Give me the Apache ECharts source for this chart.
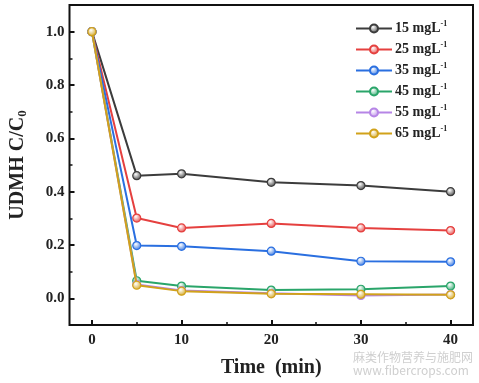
<!DOCTYPE html>
<html><head><meta charset="utf-8">
<script src="https://cdn.jsdelivr.net/npm/echarts@6/dist/echarts.min.js"></script>
<style>html,body{margin:0;padding:0;background:#fff}#c{width:479px;height:383px}</style>
</head><body><div id="c"></div>
<script>
const times = [0, 5, 10, 20, 30, 40];
const seriesNames = ['15', '25', '35', '45', '55', '65'];
const s15 = [1.0, 0.46, 0.467, 0.435, 0.423, 0.40];
const s25 = [1.0, 0.301, 0.264, 0.281, 0.264, 0.254];
const s35 = [1.0, 0.198, 0.195, 0.177, 0.139, 0.137];
const s45 = [1.0, 0.066, 0.046, 0.031, 0.034, 0.046];
const s55 = [1.0, 0.052, 0.029, 0.019, 0.011, 0.014];
const s65 = [1.0, 0.049, 0.027, 0.017, 0.015, 0.013];
const xTicks = [0, 10, 20, 30, 40];
const xMinor = [5, 15, 25, 35];
const yTicks = [0, 0.2, 0.4, 0.6, 0.8, 1.0];
const yMinor = [0.1, 0.3, 0.5, 0.7, 0.9];
const values = [s15, s25, s35, s45, s55, s65];
const colors = ['#3c3c3c', '#e5403f', '#2a6fe0', '#2aa56a', '#b685e6', '#d1a21a'];

const font = '"Liberation Serif", "Times New Roman", serif';
const chart = echarts.init(document.getElementById('c'));

const series = values.map((v, i) => ({
  name: seriesNames[i],
  type: 'line',
  xAxisIndex: 0, yAxisIndex: 0,
  data: times.map((t, k) => [t, v[k]]),
  symbol: 'circle',
  symbolSize: 8,
  z: 2 + i,
  lineStyle: { color: colors[i], width: 2 },
  itemStyle: {
    color: {
      type: 'radial', x: 0.4, y: 0.35, r: 0.7,
      colorStops: [{ offset: 0, color: '#ffffff' }, { offset: 1, color: colors[i] }]
    },
    borderColor: colors[i], borderWidth: 1.2
  }
}));

chart.setOption({
  animation: false,
  grid: { left: 65, right: 6, top: 5, bottom: 55, show: true, borderColor: '#111', borderWidth: 2 },
  legend: {
    left: 350, top: 15, orient: 'vertical', itemGap: 4,
    itemWidth: 36, itemHeight: 10,
    data: seriesNames,
    formatter: n => '{a|' + n + ' mgL}{b|-1}',
    textStyle: {
      padding: [0, 0, 0, -2],
      rich: {
        a: { fontFamily: font, fontWeight: 'bold', fontSize: 14, color: '#222', lineHeight: 17 },
        b: { fontFamily: font, fontWeight: 'bold', fontSize: 8, color: '#222', verticalAlign: 'bottom', padding: [0, 0, 9, 0], lineHeight: 17 }
      }
    }
  },
  xAxis: [{
    type: 'value', min: -2.5, max: 42.5,
    name: 'Time  (min)', nameLocation: 'middle', nameGap: 33,
    nameTextStyle: { fontFamily: font, fontWeight: 'bold', fontSize: 20, color: '#222' },
    axisLine: { show: false, onZero: false },
    splitLine: { show: false },
    axisTick: { show: true, inside: true, length: 5, customValues: xTicks, lineStyle: { color: '#111', width: 2 } },
    axisLabel: { customValues: xTicks, fontFamily: font, fontWeight: 'bold', fontSize: 15, color: '#222', margin: 8 }
  }, {
    type: 'value', min: -2.5, max: 42.5, position: 'bottom',
    axisLine: { show: false, onZero: false }, splitLine: { show: false },
    axisTick: { show: true, inside: true, length: 3, customValues: xMinor, lineStyle: { color: '#111', width: 1.5 } },
    axisLabel: { show: false }
  }],
  yAxis: [{
    type: 'value', min: -0.1, max: 1.1,
    name: 'UDMH C/C{s|0}', nameLocation: 'middle', nameGap: 40,
    nameTextStyle: {
      fontFamily: font, fontWeight: 'bold', fontSize: 20, color: '#222',
      rich: { s: { fontFamily: font, fontWeight: 'bold', fontSize: 13, color: '#222', verticalAlign: 'bottom', padding: [10, 0, 0, 0] } }
    },
    axisLine: { show: false, onZero: false }, splitLine: { show: false },
    axisTick: { show: true, inside: true, length: 5, customValues: yTicks, lineStyle: { color: '#111', width: 2 } },
    axisLabel: { customValues: yTicks, formatter: v => v.toFixed(1), fontFamily: font, fontWeight: 'bold', fontSize: 15, color: '#222', margin: 5 }
  }, {
    type: 'value', min: -0.1, max: 1.1, position: 'left',
    axisLine: { show: false, onZero: false }, splitLine: { show: false },
    axisTick: { show: true, inside: true, length: 3, customValues: yMinor, lineStyle: { color: '#111', width: 1.5 } },
    axisLabel: { show: false }
  }],
  series: series,
  graphic: [{
    type: 'text', right: 6, bottom: 6,
    style: { text: '麻类作物营养与施肥网\nwww.fibercrops.com', font: '12px "Noto Sans CJK SC", sans-serif', fill: '#cfcfcf', lineHeight: 13, align: 'center' }
  }]
});
</script></body></html>
